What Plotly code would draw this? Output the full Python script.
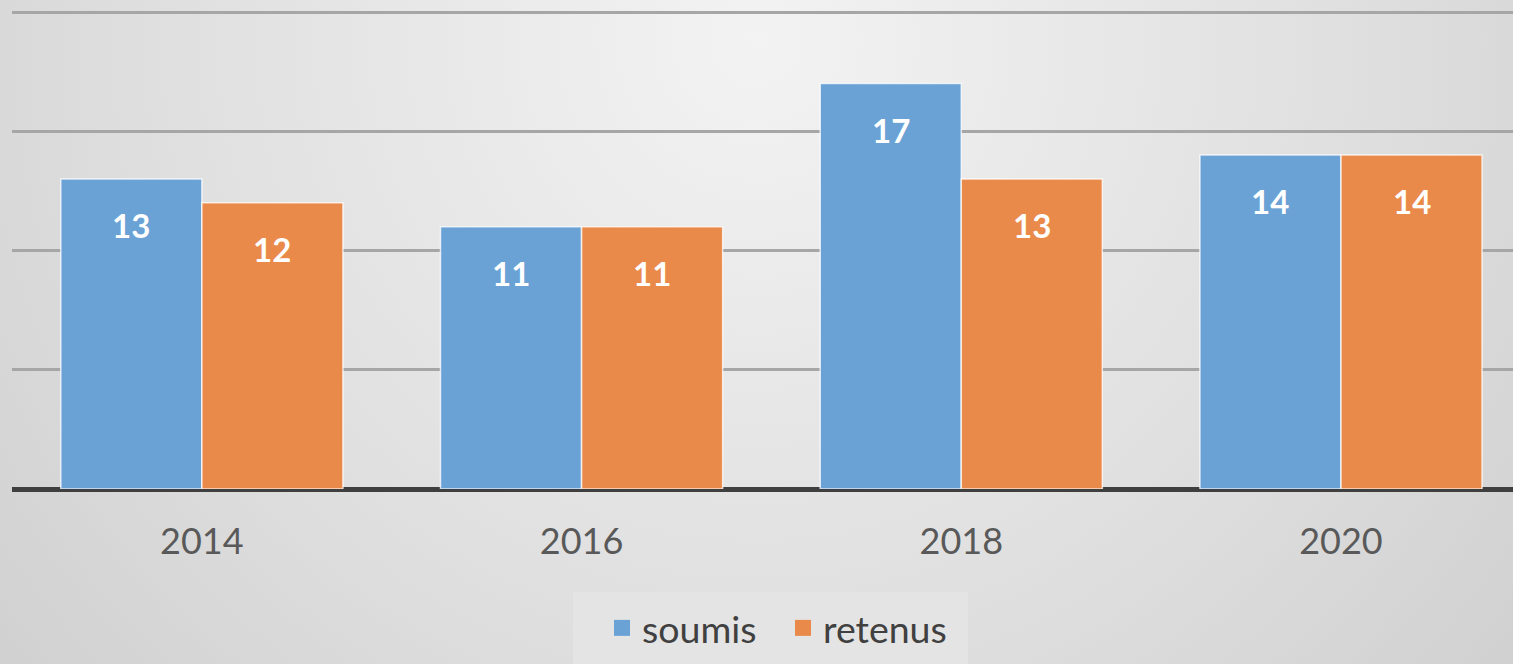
import base64
import plotly.graph_objects as go

# ---- data ----
years = ["2014", "2016", "2018", "2020"]
soumis = [13, 11, 17, 14]
retenus = [12, 11, 13, 14]
series_names = ["soumis", "retenus"]
y_ticks = [0, 5, 10, 15, 20]

# ---- styling ----
W, H = 1513, 664
ML, MR, MT, MB = 12, 0, 10, 175
PW, PH = W - ML - MR, H - MT - MB
BLUE = "#6AA2D6"
ORANGE = "#EA8A4A"
FONT = "Lato"
Y_TOP = PH / (477 / 20)  # keeps 20 units at the reference scale


def px_x(X):
    return (X - ML) / PW


def px_y(Y):
    return (MT + PH - Y) / PH


fig = go.Figure()
for name, vals, col in [(series_names[0], soumis, BLUE), (series_names[1], retenus, ORANGE)]:
    fig.add_trace(go.Bar(
        name=name, x=years, y=vals, showlegend=False,
        marker=dict(color=col, line=dict(color="rgba(255,255,255,0.75)", width=1.5)),
    ))
# legend entries with larger square swatches
for name, col in [(series_names[0], BLUE), (series_names[1], ORANGE)]:
    fig.add_trace(go.Scatter(
        name=name, x=[None], y=[None], mode="markers",
        marker=dict(symbol="square", size=26, color=col),
    ))

# data labels (white, bold) inside near the top of each bar
cat_w = PW / (3.453 + 0.5)
bar_w = cat_w * (1 - 0.257) / 2
for vals, sh in [(soumis, -bar_w / 2), (retenus, bar_w / 2)]:
    for i, v in enumerate(vals):
        fig.add_annotation(
            x=i, y=v, xref="x", yref="y", text=f"<b>{v}</b>", showarrow=False,
            xshift=sh, yshift=-46, yanchor="middle",
            font=dict(family=FONT, size=33, color="white"),
        )

# gradient background via svg image
svg = f"""<svg xmlns='http://www.w3.org/2000/svg' width='{W}' height='{H}' viewBox='0 0 {W} {H}'>
<defs><radialGradient id='g' gradientUnits='userSpaceOnUse' cx='{W/2}' cy='40' r='1100'>
<stop offset='0' stop-color='#F3F3F3'/><stop offset='0.55' stop-color='#DFDFDF'/><stop offset='1' stop-color='#CCCCCC'/>
</radialGradient></defs><rect width='{W}' height='{H}' fill='url(#g)'/></svg>"""
src = "data:image/svg+xml;base64," + base64.b64encode(svg.encode()).decode()
fig.add_layout_image(dict(
    source=src, xref="paper", yref="paper",
    x=px_x(0), y=px_y(0), sizex=W / PW, sizey=H / PH,
    xanchor="left", yanchor="top", sizing="stretch", layer="below",
))

# legend background box
fig.add_shape(type="rect", xref="paper", yref="paper",
              x0=px_x(573), x1=px_x(968), y0=px_y(592), y1=px_y(670),
              fillcolor="#E4E4E4", line=dict(width=0), layer="below")

fig.update_layout(
    width=W, height=H,
    margin=dict(l=ML, r=MR, t=MT, b=MB, pad=0),
    paper_bgcolor="#DCDCDC", plot_bgcolor="rgba(0,0,0,0)",
    barmode="group", bargap=0.257, bargroupgap=0,
    font=dict(family=FONT, color="#595959"),
    showlegend=True,
    legend=dict(
        orientation="h", x=px_x(602), xanchor="left",
        y=px_y(597), yanchor="top",
        bgcolor="rgba(0,0,0,0)", font=dict(family=FONT, size=37.5, color="#404040"),
        itemsizing="trace", entrywidth=136,
    ),
    xaxis=dict(
        type="category", range=[-0.5, 3.453], showgrid=False, showline=False,
        ticks="", tickfont=dict(family=FONT, size=36, color="#595959"),
        ticklabelstandoff=28,
    ),
    yaxis=dict(
        range=[0, Y_TOP], tickvals=y_ticks, showticklabels=False,
        showgrid=True, gridcolor="#A6A6A6", gridwidth=2.5,
        zeroline=True, zerolinecolor="#3F3F3F", zerolinewidth=5,
        showline=False,
    ),
)

fig.write_html("out.html", config={"displayModeBar": False},
               post_script="document.body.style.margin='0';")
